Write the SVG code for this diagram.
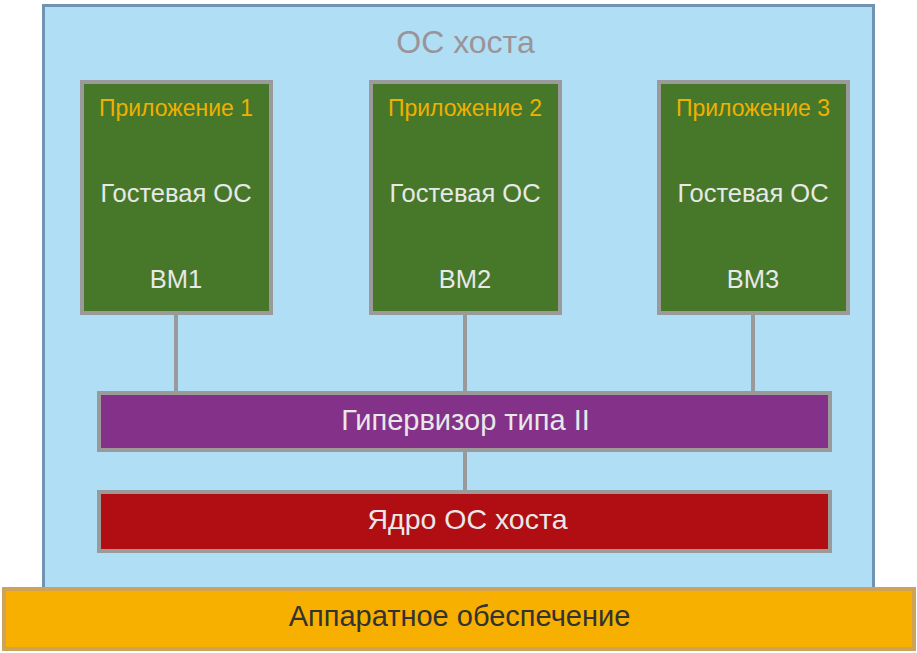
<svg xmlns="http://www.w3.org/2000/svg" width="917" height="653" viewBox="0 0 917 653">
<style>
.vm{fill:#47782a;stroke:#9a9a9a;stroke-width:4}
.t{font-family:"Liberation Sans",Arial,sans-serif;text-anchor:middle}
.app{fill:#f0b000;font-size:23px}
.w{fill:#e8e8e8}
.g{font-size:25.5px}
.conn{stroke:#9a9a9a;stroke-width:4;fill:none}
</style>
<rect width="917" height="653" fill="#ffffff"/>
<g id="host">
<rect x="43.5" y="5.5" width="830" height="584" fill="#b0dff5" stroke="#6f93b0" stroke-width="3"/>
<text class="t" x="465.5" y="53" fill="#9a9498" font-size="32">ОС хоста</text>
</g>
<g id="connectors">
<line class="conn" x1="176" y1="315" x2="176" y2="393"/>
<line class="conn" x1="465" y1="315" x2="465" y2="393"/>
<line class="conn" x1="753" y1="315" x2="753" y2="393"/>
<line class="conn" x1="465" y1="452" x2="465" y2="492"/>
</g>
<g id="vm1">
<rect class="vm" x="82" y="82" width="189" height="231"/>
<text class="t app" x="176" y="116">Приложение 1</text>
<text class="t w g" x="176" y="202">Гостевая ОС</text>
<text class="t w g" x="176" y="288">ВМ1</text>
</g>
<g id="vm2">
<rect class="vm" x="371" y="82" width="189" height="231"/>
<text class="t app" x="465" y="116">Приложение 2</text>
<text class="t w g" x="465" y="202">Гостевая ОС</text>
<text class="t w g" x="465" y="288">ВМ2</text>
</g>
<g id="vm3">
<rect class="vm" x="659" y="82" width="189" height="231"/>
<text class="t app" x="753" y="116">Приложение 3</text>
<text class="t w g" x="753" y="202">Гостевая ОС</text>
<text class="t w g" x="753" y="288">ВМ3</text>
</g>
<g id="hypervisor">
<rect x="99" y="393" width="731" height="57" fill="#843189" stroke="#9a9a9a" stroke-width="4"/>
<text class="t w" x="465.5" y="430" font-size="29">Гипервизор типа II</text>
</g>
<g id="kernel">
<rect x="99" y="492" width="731" height="59" fill="#b00e13" stroke="#9a9a9a" stroke-width="4"/>
<text class="t w" x="467.5" y="529" font-size="28.5">Ядро ОС хоста</text>
</g>
<g id="hardware">
<rect x="4" y="589" width="910" height="60" fill="#f7b000" stroke="#cea257" stroke-width="4"/>
<text class="t" x="459.5" y="626" fill="#333333" font-size="29">Аппаратное обеспечение</text>
</g>
</svg>
